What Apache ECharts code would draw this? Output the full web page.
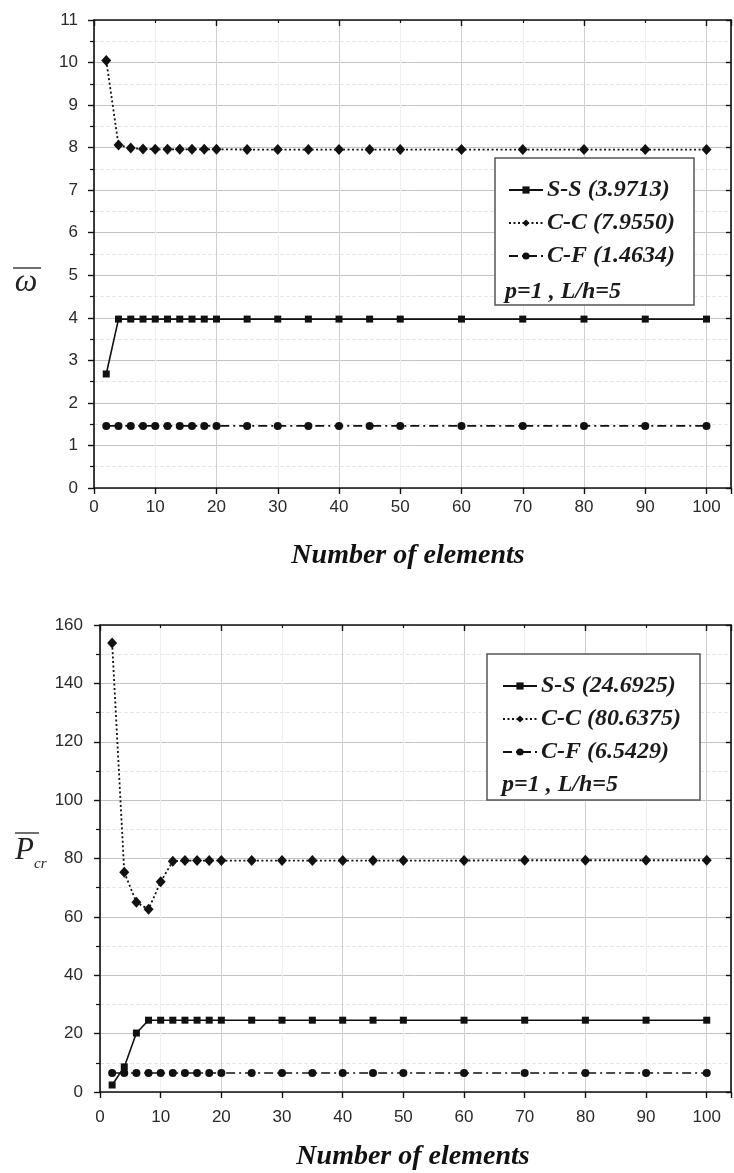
<!DOCTYPE html>
<html>
<head>
<meta charset="utf-8">
<script src="https://cdn.jsdelivr.net/npm/echarts@6/dist/echarts.min.js"></script>
<style>
html,body{margin:0;padding:0;background:#fff;}
#chart{width:734px;height:1173px;}
</style>
</head>
<body>
<div id="chart"></div>
<script>
// ---- data ----
const elements = [2,4,6,8,10,12,14,16,18,20,25,30,35,40,45,50,60,70,80,90,100];

const ssOmega = [2.68,3.97,3.97,3.97,3.97,3.97,3.97,3.97,3.97,3.97,3.97,3.97,3.97,3.97,3.97,3.97,3.97,3.97,3.97,3.97,3.97];
const ccOmega = [10.05,8.06,7.99,7.97,7.96,7.96,7.96,7.96,7.96,7.96,7.955,7.955,7.955,7.955,7.955,7.955,7.955,7.955,7.955,7.955,7.955];
const cfOmega = [1.46,1.46,1.46,1.46,1.46,1.46,1.46,1.46,1.46,1.46,1.46,1.46,1.46,1.46,1.46,1.46,1.46,1.46,1.46,1.46,1.46];

const ssPcr = [2.4,8.6,20.2,24.6,24.6,24.6,24.6,24.6,24.6,24.6,24.6,24.6,24.6,24.6,24.6,24.6,24.6,24.6,24.6,24.6,24.6];
const ccPcr = [153.8,75.3,65.0,62.6,72.0,79.1,79.3,79.3,79.3,79.3,79.3,79.3,79.3,79.3,79.3,79.3,79.3,79.4,79.4,79.4,79.4];
const cfPcr = [6.5,6.5,6.5,6.5,6.5,6.5,6.5,6.5,6.5,6.5,6.5,6.5,6.5,6.5,6.5,6.5,6.5,6.5,6.5,6.5,6.5];

const topNames = ['S-S (3.9713)','C-C (7.9550)','C-F (1.4634)'];
const botNames = ['S-S (24.6925)','C-C (80.6375)','C-F (6.5429)'];
const noteText = 'p=1 , L/h=5';
const xTitle = 'Number of elements';

const pair = (ys) => elements.map((x,i)=>[x, ys[i]]);

// ---- styling helpers ----
const INK = '#111';
const labelFont = {fontFamily:'Liberation Sans, Arial', fontSize:17, color:'#2a2a2a'};
const serifBI = {fontFamily:'Liberation Serif, Times New Roman', fontStyle:'italic', fontWeight:'bold', fontSize:24, color:'#1a1a1a'};

function xAxesFor(gi, labelMargin){
  return [
    { type:'value', gridIndex:gi, position:'bottom', min:0, max:104, interval:10,
      axisLine:{show:true,onZero:false,lineStyle:{color:INK,width:1.6}},
      axisTick:{show:true,inside:false,length:6,lineStyle:{color:INK,width:1.4}},
      axisLabel:{...labelFont, margin:labelMargin, formatter:v=> (v%10===0 && v<=100)? String(v):''},
      splitLine:{show:true,lineStyle:{color:'#efefef',width:1}} },
    { type:'value', gridIndex:gi, position:'top', min:0, max:104, interval:20,
      axisLine:{show:true,onZero:false,lineStyle:{color:INK,width:1.6}},
      axisTick:{show:true,inside:true,length:6,lineStyle:{color:INK,width:1.4}},
      minorTick:{show:true,splitNumber:2,length:3,lineStyle:{color:INK,width:1.2}},
      axisLabel:{show:false},
      splitLine:{show:true,lineStyle:{color:'#cfcfcf',width:1}} }
  ];
}
function yAxesFor(gi, max, interval, labelMargin){
  return [
    { type:'value', gridIndex:gi, position:'left', min:0, max:max, interval:interval,
      axisLine:{show:true,onZero:false,lineStyle:{color:INK,width:1.6}},
      axisTick:{show:true,inside:false,length:6,lineStyle:{color:INK,width:1.4}},
      minorTick:{show:true,splitNumber:2,length:4,lineStyle:{color:INK,width:1.2}},
      axisLabel:{...labelFont, margin:labelMargin},
      splitLine:{show:true,lineStyle:{color:'#c4c4c4',width:1}},
      minorSplitLine:{show:true,lineStyle:{color:'#e6e6e6',width:1,type:'dashed'}} },
    { type:'value', gridIndex:gi, position:'right', min:0, max:max, interval:interval,
      axisLine:{show:true,onZero:false,lineStyle:{color:INK,width:1.6}},
      axisTick:{show:true,inside:true,length:5,lineStyle:{color:INK,width:1.4}},
      axisLabel:{show:false}, splitLine:{show:false} }
  ];
}

function seriesFor(names, ss, cc, cf, xi, yi){
  return [
    { name:names[0], type:'line', xAxisIndex:xi, yAxisIndex:yi, data:pair(ss),
      symbol:'rect', symbolSize:7, lineStyle:{color:INK,width:1.6,type:'solid'},
      itemStyle:{color:INK}, z:5 },
    { name:names[1], type:'line', xAxisIndex:xi, yAxisIndex:yi, data:pair(cc),
      symbol:'diamond', symbolSize:[10,11], lineStyle:{color:INK,width:1.8,type:[2,2.5]},
      itemStyle:{color:INK}, z:5 },
    { name:names[2], type:'line', xAxisIndex:xi, yAxisIndex:yi, data:pair(cf),
      symbol:'circle', symbolSize:8, lineStyle:{color:INK,width:1.6,type:[9,4,2,4]},
      itemStyle:{color:INK}, z:5 }
  ];
}

function legendFor(names, left, top){
  return { data:names, orient:'vertical', left:left, top:top, itemGap:9,
    itemWidth:34, itemHeight:9, padding:0, z:10, selectedMode:true,
    textStyle:{...serifBI, lineHeight:24, padding:[0,0,0,-1]} };
}

const chart = echarts.init(document.getElementById('chart'), null, {renderer:'canvas'});

const option = {
  backgroundColor:'#fff',
  animation:false,
  grid:[
    {left:94, top:20, width:641, height:468},
    {left:100, top:625, width:639, height:467}
  ],
  xAxis:[...xAxesFor(0,11), ...xAxesFor(1,17)],
  yAxis:[...yAxesFor(0,11,1,16), ...yAxesFor(1,160,20,17)],
  legend:[ legendFor(topNames,508,178), legendFor(botNames,502,674) ],
  series:[...seriesFor(topNames, ssOmega, ccOmega, cfOmega, 0, 0),
          ...seriesFor(botNames, ssPcr, ccPcr, cfPcr, 2, 2)],
  graphic:[
    // legend boxes
    {type:'rect', shape:{x:495,y:158,width:199,height:147}, style:{fill:'#fff',stroke:'#555',lineWidth:1.5}, z:8},
    {type:'rect', shape:{x:487,y:654,width:213,height:146}, style:{fill:'#fff',stroke:'#555',lineWidth:1.5}, z:8},
    {type:'text', x:505, y:292, style:{text:noteText, ...serifBI, fill:'#1a1a1a', verticalAlign:'middle'}, z:9},
    {type:'text', x:502, y:785, style:{text:noteText, ...serifBI, fill:'#1a1a1a', verticalAlign:'middle'}, z:9},
    // x titles
    {type:'text', x:408, y:556, style:{text:xTitle, fontFamily:'Liberation Serif, Times New Roman', fontStyle:'italic', fontWeight:'bold', fontSize:28, fill:INK, align:'center', verticalAlign:'middle'}},
    {type:'text', x:413, y:1157, style:{text:xTitle, fontFamily:'Liberation Serif, Times New Roman', fontStyle:'italic', fontWeight:'bold', fontSize:28, fill:INK, align:'center', verticalAlign:'middle'}},
    // y name top: omega with overbar
    {type:'line', shape:{x1:13,y1:268,x2:41,y2:268}, style:{stroke:'#222',lineWidth:1.3}},
    {type:'text', x:26, y:283, style:{text:'ω', fontFamily:'Liberation Serif, Times New Roman', fontStyle:'italic', fontSize:32, fill:'#222', align:'center', verticalAlign:'middle'}},
    // y name bottom: P_cr with overbar
    {type:'line', shape:{x1:15,y1:833,x2:39,y2:833}, style:{stroke:'#222',lineWidth:1.3}},
    {type:'text', x:15, y:851, style:{text:'P', fontFamily:'Liberation Serif, Times New Roman', fontStyle:'italic', fontSize:31, fill:'#222', align:'left', verticalAlign:'middle'}},
    {type:'text', x:34, y:864, style:{text:'cr', fontFamily:'Liberation Serif, Times New Roman', fontStyle:'italic', fontSize:15, fill:'#222', align:'left', verticalAlign:'middle'}}
  ]
};
chart.setOption(option);
</script>
</body>
</html>
